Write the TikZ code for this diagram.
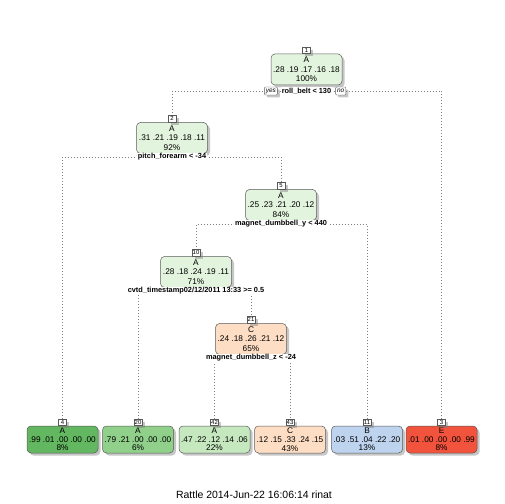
\documentclass[tikz,border=0pt]{standalone}
\usepackage{fontspec}
\setmainfont{Liberation Sans}
\usetikzlibrary{positioning,shadows,backgrounds}
\definecolor{clA}{HTML}{E3F4DE}
\definecolor{clAa}{HTML}{C6E8BF}
\definecolor{clAb}{HTML}{90D08A}
\definecolor{clAc}{HTML}{62B760}
\definecolor{clC}{HTML}{FDDDC4}
\definecolor{clB}{HTML}{BED3EE}
\definecolor{clE}{HTML}{F1533C}

\begin{document}
\begin{tikzpicture}[x=1bp,y=-1bp,
  shd/.style={drop shadow={shadow xshift=2.5bp,shadow yshift=-2.5bp,fill=gray,opacity=0.45}},
  box/.style={shd,draw=gray!70!black,rounded corners=4bp,line width=0.5bp,minimum width=71bp,minimum height=31bp,inner sep=1bp,align=center,font=\fontsize{8.3}{9.4}\selectfont},
  leaf/.style={box,minimum height=27bp,font=\fontsize{8.3}{8.7}\selectfont},
  tag/.style={shd,draw=gray!70!black,fill=white,line width=0.4bp,inner sep=0.6bp,minimum width=8bp,minimum height=6.5bp,font=\fontsize{6}{6}\selectfont},
  rule/.style={fill=white,inner sep=1bp,font=\bfseries\fontsize{7.4}{8}\selectfont},
  yn/.style={shd,draw=gray!70!black,fill=white,rounded corners=1bp,line width=0.4bp,inner xsep=1.5bp,inner ysep=1.2bp,minimum height=8bp,font=\itshape\fontsize{6.5}{6.5}\selectfont},
  branch/.style={gray,line width=0.7bp,dash pattern=on 0.7bp off 2.3bp}]
\useasboundingbox (0,0) rectangle (504,504);

\node[box,fill=clA] (n1) at (306.5,69.5) {A\\.28 .19 .17 .16 .18\\100\%};
\node[tag,above=0pt of n1] (t1) {1};
\node[rule] (s1) at (306.5,91) {roll\_belt < 130};
\node[yn,left=3bp of s1] (y1) {yes};
\node[yn,right=3bp of s1] (o1) {no};

\node[box,fill=clA] (n2) at (172,138) {A\\.31 .21 .19 .18 .11\\92\%};
\node[tag,above=0pt of n2] (t2) {2};
\node[rule] (s2) at (172,157) {pitch\_forearm < -34};

\node[box,fill=clA] (n5) at (281,205) {A\\.25 .23 .21 .20 .12\\84\%};
\node[tag,above=0pt of n5] (t5) {5};
\node[rule] (s5) at (281,224) {magnet\_dumbbell\_y < 440};

\node[box,fill=clA] (n10) at (196,272) {A\\.28 .18 .24 .19 .11\\71\%};
\node[tag,above=0pt of n10] (t10) {10};
\node[rule] (s10) at (196,291) {cvtd\_timestamp02/12/2011 13:33 >= 0.5};

\node[box,fill=clC] (n21) at (251,339) {C\\.24 .18 .26 .21 .12\\65\%};
\node[tag,above=0pt of n21] (t21) {21};
\node[rule] (s21) at (251,358) {magnet\_dumbbell\_z < -24};

% leaves
\node[leaf,fill=clAc] (n4) at (62.5,439.5) {A\\.99 .01 .00 .00 .00\\8\%};
\node[leaf,fill=clAb] (n20) at (138,439.5) {A\\.79 .21 .00 .00 .00\\6\%};
\node[leaf,fill=clAa] (n42) at (214.5,439.5) {A\\.47 .22 .12 .14 .06\\22\%};
\node[leaf,fill=clC] (n43) at (290,439.5) {C\\.12 .15 .33 .24 .15\\43\%};
\node[leaf,fill=clB] (n11) at (367,439.5) {B\\.03 .51 .04 .22 .20\\13\%};
\node[leaf,fill=clE] (n3) at (441.5,439.5) {E\\.01 .00 .00 .00 .99\\8\%};
\foreach \n in {4,20,42,43,11,3}
  \node[tag,above=0pt of n\n] (t\n) {\n};

\begin{scope}[on background layer]
\draw[branch] (t2.north) |- (s1.center) -| (t3.north);
\draw[branch] (t4.north) |- (s2.center) -| (t5.north);
\draw[branch] (t10.north) |- (s5.center) -| (t11.north);
\draw[branch] (t20.north) |- (s10.center) -| (t21.north);
\draw[branch] (t42.north) |- (s21.center) -| (t43.north);
\end{scope}

\node (ttl) at (254,495) {\fontsize{10.5}{12}\selectfont Rattle 2014-Jun-22 16:06:14 rinat};
\end{tikzpicture}
\end{document}
